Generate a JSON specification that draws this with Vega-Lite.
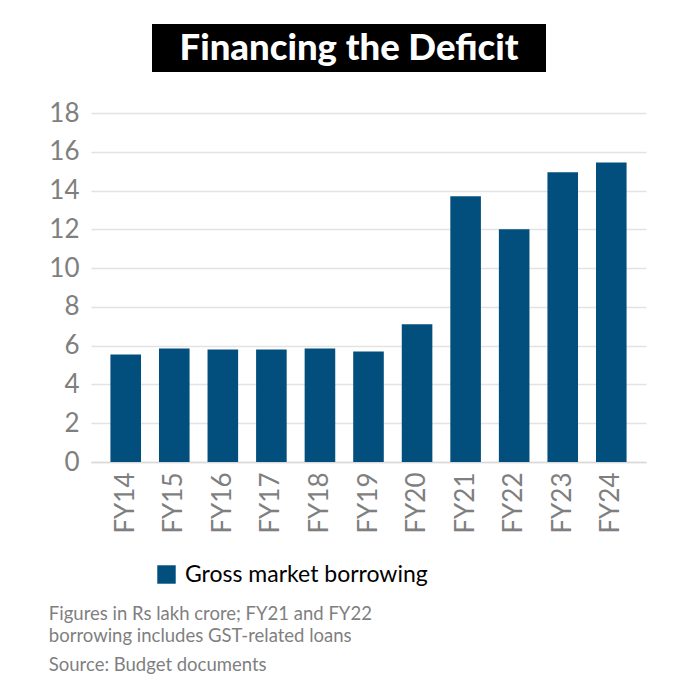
{
  "$schema": "https://vega.github.io/schema/vega-lite/v6.json",
  "background": "white",
  "padding": {"left": 48, "top": 24, "right": 5, "bottom": 5},
  "config": {"view": {"stroke": null}, "font": "Lato"},
  "center": false,
  "spacing": 28,
  "title": {
    "text": ["Figures in Rs lakh crore; FY21 and FY22", "borrowing includes GST-related loans"],
    "subtitle": "Source: Budget documents",
    "orient": "bottom",
    "anchor": "start",
    "font": "Lato",
    "fontSize": 18.5,
    "fontWeight": "normal",
    "color": "#7f7f7f",
    "lineHeight": 22,
    "subtitleFont": "Lato",
    "subtitleFontSize": 18.5,
    "subtitleColor": "#7f7f7f",
    "subtitlePadding": 10,
    "offset": 18,
    "dx": 0
  },
  "vconcat": [
    {
      "spacing": 0,
      "hconcat": [
        {
          "width": 61,
          "height": 48,
          "data": {"values": [{"t": ""}]},
          "mark": {"type": "text"},
          "encoding": {"text": {"field": "t"}}
        },
        {
          "width": 394,
          "height": 48,
          "view": {"fill": "black", "stroke": null},
          "data": {"values": [{"t": "Financing the Deficit"}]},
          "mark": {"type": "text", "color": "white", "font": "Lato", "fontWeight": 900, "fontSize": 36.5, "align": "center", "baseline": "middle", "dy": 1},
          "encoding": {"text": {"field": "t"}}
        }
      ]
    },
    {
      "width": 555,
      "height": 349,
      "data": {
        "values": [
          {"year": "FY14", "value": 5.55, "series": "Gross market borrowing"},
          {"year": "FY15", "value": 5.85, "series": "Gross market borrowing"},
          {"year": "FY16", "value": 5.8, "series": "Gross market borrowing"},
          {"year": "FY17", "value": 5.8, "series": "Gross market borrowing"},
          {"year": "FY18", "value": 5.85, "series": "Gross market borrowing"},
          {"year": "FY19", "value": 5.7, "series": "Gross market borrowing"},
          {"year": "FY20", "value": 7.1, "series": "Gross market borrowing"},
          {"year": "FY21", "value": 13.7, "series": "Gross market borrowing"},
          {"year": "FY22", "value": 12.0, "series": "Gross market borrowing"},
          {"year": "FY23", "value": 14.95, "series": "Gross market borrowing"},
          {"year": "FY24", "value": 15.45, "series": "Gross market borrowing"}
        ]
      },
      "mark": {"type": "bar"},
      "encoding": {
        "x": {
          "field": "year", "type": "nominal", "sort": null,
          "scale": {"paddingInner": 0.37, "paddingOuter": 0.4},
          "axis": {"title": null, "labelAngle": -90, "labelFontSize": 26, "labelColor": "#7f7f7f", "labelFont": "Lato", "ticks": false, "domainColor": "#d9d9d9", "domainWidth": 1.5, "labelPadding": 10}
        },
        "y": {
          "field": "value", "type": "quantitative",
          "scale": {"domain": [0, 18], "nice": false},
          "axis": {"title": null, "values": [0, 2, 4, 6, 8, 10, 12, 14, 16, 18], "labelFontSize": 26, "labelColor": "#7f7f7f", "labelFont": "Lato", "ticks": false, "domain": false, "gridColor": "#e3e3e3", "gridWidth": 1.5, "labelPadding": 12}
        },
        "color": {
          "field": "series", "type": "nominal",
          "scale": {"range": ["#024f7d"]},
          "legend": {"title": null, "orient": "none", "legendX": 64, "legendY": 539, "symbolType": "square", "symbolSize": 340, "symbolStrokeWidth": 0, "labelFontSize": 23, "labelColor": "black", "labelFont": "Lato", "labelLimit": 500, "padding": 0, "labelOffset": 7}
        }
      }
    }
  ]
}
